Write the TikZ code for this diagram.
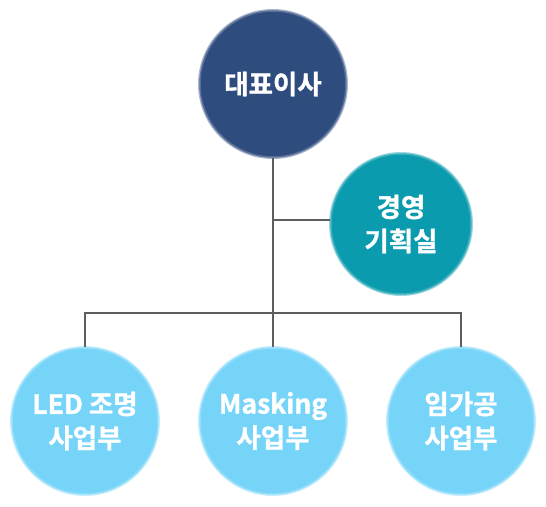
\documentclass[tikz,border=0pt]{standalone}
\usepackage{fontspec}
\setmainfont{Noto Sans CJK KR}[BoldFont={Noto Sans CJK KR Bold},BoldFeatures={FakeBold=1.2}]
\definecolor{navy}{HTML}{2F4C7E}
\definecolor{teal}{HTML}{0B9BAE}
\definecolor{sky}{HTML}{77D4F9}
\definecolor{lnk}{HTML}{5E5E5E}
\tikzset{
  org/.style={circle, minimum size=146pt, inner sep=0pt, text=white,
    font=\fontsize{26.5}{34}\selectfont\bfseries, align=center,
    fill=#1, draw=#1!80!white, line width=1.5pt,
    preaction={draw=#1!40!white, line width=4pt}},
  link/.style={draw=lnk, line width=2.4pt}
}
\begin{document}
\begin{tikzpicture}[x=1pt,y=-1pt]
\useasboundingbox (0,0) rectangle (546,506);
\coordinate (j1) at (273,220);
\coordinate (j2) at (273,313);
\node[org=navy] (ceo) at (273,84) {대표이사};
\node[org=teal, minimum size=140pt] (plan) at (401,224) {경영\\기획실};
\node[org=sky] (b1) at (85,421) {LED 조명\\사업부};
\node[org=sky] (b2) at (273,421) {Masking\\사업부};
\node[org=sky] (b3) at (461,421) {임가공\\사업부};
\draw[link] (ceo.south) -- (b2.north);
\draw[link] (j1) -- (plan.west |- j1);
\draw[link] (b1.north) -- (b1.north |- j2) -- (b3.north |- j2) -- (b3.north);
\end{tikzpicture}
\end{document}
